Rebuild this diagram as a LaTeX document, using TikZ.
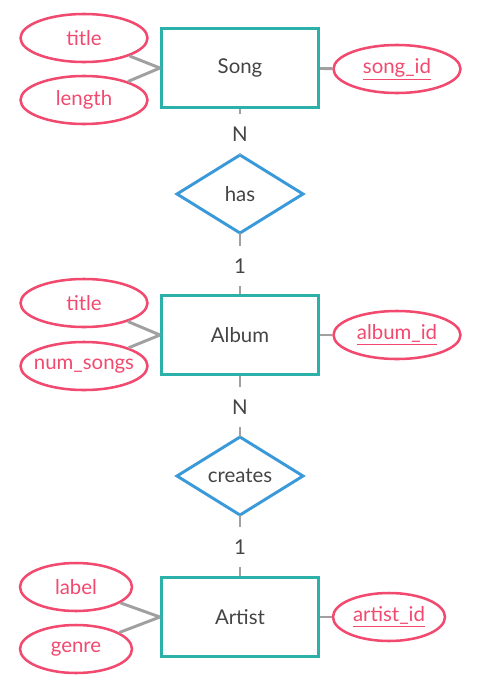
\documentclass[tikz,border=0pt]{standalone}
\usepackage{fontspec}
\setmainfont{Lato}
\usetikzlibrary{shapes.geometric}

\definecolor{entteal}{HTML}{2BB1A9}
\definecolor{attrpink}{HTML}{F2496F}
\definecolor{relblue}{HTML}{3A9AD9}
\definecolor{linkgray}{HTML}{A0A0A0}
\definecolor{textgray}{HTML}{444444}

\begin{document}
\begin{tikzpicture}[
  x=0.75pt,
  y=-0.75pt,
  entity/.style={
    draw=entteal,
    line width=2.3pt,
    rectangle,
    minimum width=117.75pt,
    minimum height=59.25pt,
    text=textgray,
    font=\fontsize{15.3}{18}\selectfont
  },
  relation/.style={
    draw=relblue,
    line width=2.2pt,
    diamond,
    aspect=1.6,
    inner sep=0pt,
    outer sep=0pt,
    minimum width=94.5pt,
    minimum height=58.5pt,
    text=textgray,
    font=\fontsize{15.3}{18}\selectfont
  },
  attribute/.style={
    draw=attrpink,
    line width=1.9pt,
    ellipse,
    inner xsep=-12pt,
    inner ysep=0pt,
    minimum width=95.25pt,
    minimum height=36pt,
    text=attrpink,
    font=\fontsize{15.3}{18}\selectfont
  },
  attribute small/.style={
    attribute,
    minimum width=84pt
  },
  card/.style={
    inner sep=0pt,
    minimum height=30pt,
    text=textgray,
    font=\fontsize{15.3}{18}\selectfont
  },
  link/.style={
    draw=linkgray,
    line width=2.2pt
  },
]
\useasboundingbox (0,0) rectangle (490,686);

% entities
\node[entity] (song) at (240,68) {Song};
\node[entity] (album) at (240,335) {Album};
\node[entity] (artist) at (240,617) {Artist};

% relations
\node[relation] (has) at (240,194) {has};
\node[relation] (creates) at (240,476) {creates};

% attributes
\node[attribute] (songtitle) at (84,38) {title};
\node[attribute] (songlength) at (84,100) {length};
\node[attribute] (songid) at (397,69) {\underline{song\_id}};
\node[attribute] (albumtitle) at (84,303) {title};
\node[attribute] (albumnum) at (84,366) {num\_songs};
\node[attribute] (albumid) at (397,335) {\underline{album\_id}};
\node[attribute small] (artistlabel) at (76,587) {label};
\node[attribute small] (artistgenre) at (76,649) {genre};
\node[attribute small] (artistid) at (389,617) {\underline{artist\_id}};

% cardinalities
\node[card] (hasN) at (240,134) {N};
\node[card] (has1) at (240,266) {1};
\node[card] (createsN) at (240,407) {N};
\node[card] (creates1) at (240,547) {1};

% links
\draw[link] (songtitle) -- (song.west);
\draw[link] (songlength) -- (song.west);
\draw[link] (song) -- (songid);
\draw[link] (albumtitle) -- (album.west);
\draw[link] (albumnum) -- (album.west);
\draw[link] (album) -- (albumid);
\draw[link] (artistlabel) -- (artist.west);
\draw[link] (artistgenre) -- (artist.west);
\draw[link] (artist) -- (artistid);

\draw[link] (song) -- (hasN);
\draw[link] (hasN) -- (has);
\draw[link] (has) -- (has1);
\draw[link] (has1) -- (album);
\draw[link] (album) -- (createsN);
\draw[link] (createsN) -- (creates);
\draw[link] (creates) -- (creates1);
\draw[link] (creates1) -- (artist);
\end{tikzpicture}
\end{document}
